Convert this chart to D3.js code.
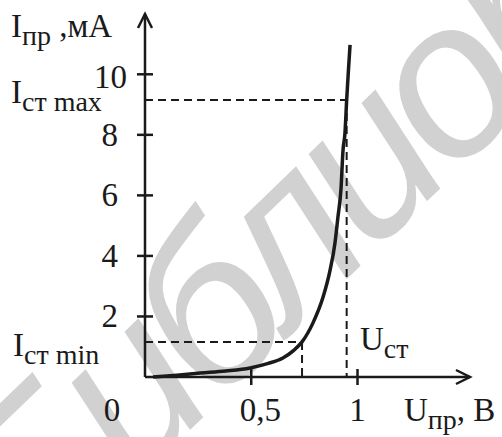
<!DOCTYPE html>
<html>
<head>
<meta charset="utf-8">
<script src="https://cdn.jsdelivr.net/npm/d3@7"></script>
<style>
  html, body { margin: 0; padding: 0; background: #fff; }
  svg { display: block; }
</style>
</head>
<body>
<svg id="chart" width="502" height="437"></svg>
<script>
(() => {
    // forward branch of the diode characteristic
    const voltage = [0.038, 0.15, 0.26, 0.38, 0.494, 0.58, 0.649, 0.70, 0.739, 0.79, 0.838, 0.871, 0.894, 0.908, 0.922, 0.932, 0.941, 0.949, 0.957, 0.965];
    const current = [0, 0.06, 0.13, 0.2, 0.3, 0.45, 0.63, 0.88, 1.16, 1.78, 2.64, 3.53, 4.43, 5.29, 6.18, 7.5, 8.06, 9.15, 10.1, 10.97];

    const yTicks = [2, 4, 6, 8, 10];
    const xTicks = [0.5, 1];
    const xTickLabels = ["0,5", "1"];

    // stabilisation point and minimum point
    const uStab = 0.949, iMax = 9.15;
    const uMin = 0.739, iMin = 1.16;

    const svg = d3.select("#chart");
    const serif = "'Liberation Serif', 'Times New Roman', serif";

    const x = d3.scaleLinear().domain([0, 1]).range([145, 357.5]);
    const y = d3.scaleLinear().domain([0, 10]).range([377, 74.3]);

    // watermark behind everything
    svg.append("text")
        .attr("transform", "translate(40,575) rotate(-44)")
        .attr("font-family", "'Liberation Sans', Arial, sans-serif")
        .attr("font-style", "italic")
        .attr("font-size", 220)
        .attr("letter-spacing", -12)
        .attr("fill", "#d1d1d1")
        .text("Библиотека");

    const ink = "#1a1a1a";

    // axes with arrows
    const axes = svg.append("g").attr("stroke", ink).attr("stroke-width", 2.5).attr("fill", "none");
    axes.append("line").attr("x1", x(0)).attr("y1", y(0)).attr("x2", x(0)).attr("y2", 14);
    axes.append("path").attr("d", `M${x(0) - 7},28 L${x(0)},14 L${x(0) + 7},28`);
    axes.append("line").attr("x1", x(0)).attr("y1", y(0)).attr("x2", 470).attr("y2", y(0));
    axes.append("path").attr("d", `M456,${y(0) - 7} L470,${y(0)} L456,${y(0) + 7}`);

    // ticks crossing the axes
    axes.selectAll(".ytick").data(yTicks).join("line")
        .attr("x1", x(0) - 8).attr("x2", x(0) + 8)
        .attr("y1", d => y(d)).attr("y2", d => y(d));
    axes.selectAll(".xtick").data(xTicks).join("line")
        .attr("x1", d => x(d)).attr("x2", d => x(d))
        .attr("y1", y(0) - 8).attr("y2", y(0) + 8);

    // tick labels
    svg.selectAll(".ylab").data(yTicks).join("text")
        .attr("x", d => d === 10 ? 127 : 118)
        .attr("y", d => y(d) + (d === 10 ? 14 : 11))
        .attr("text-anchor", "end")
        .attr("font-family", serif).attr("font-size", 33).attr("fill", ink)
        .text(d => d);
    svg.selectAll(".xlab").data(xTicks).join("text")
        .attr("x", d => x(d) + (d === 0.5 ? 9 : 0))
        .attr("y", 421)
        .attr("text-anchor", "middle")
        .attr("font-family", serif).attr("font-size", 33).attr("fill", ink)
        .text((d, i) => xTickLabels[i]);
    svg.append("text")
        .attr("x", 112).attr("y", 421).attr("text-anchor", "middle")
        .attr("font-family", serif).attr("font-size", 33).attr("fill", ink)
        .text("0");

    // dashed guide lines
    const dash = svg.append("g").attr("stroke", ink).attr("stroke-width", 2).attr("stroke-dasharray", "8,5").attr("fill", "none");
    dash.append("line").attr("x1", x(0)).attr("x2", x(uStab)).attr("y1", y(iMax)).attr("y2", y(iMax));
    dash.append("line").attr("x1", x(uStab)).attr("x2", x(uStab)).attr("y1", y(iMax)).attr("y2", y(0));
    dash.append("line").attr("x1", x(0)).attr("x2", x(uMin)).attr("y1", y(iMin)).attr("y2", y(iMin));
    dash.append("line").attr("x1", x(uMin)).attr("x2", x(uMin)).attr("y1", y(iMin)).attr("y2", y(0));

    // the curve
    const line = d3.line()
        .x(d => x(d[0]))
        .y(d => y(d[1]))
        .curve(d3.curveMonotoneX);
    svg.append("path")
        .datum(voltage.map((v, i) => [v, current[i]]))
        .attr("d", line)
        .attr("fill", "none")
        .attr("stroke", ink)
        .attr("stroke-width", 3.5);

    // labels with subscripts
    function label(px, py, main, sub, tail) {
        const t = svg.append("text")
            .attr("x", px).attr("y", py)
            .attr("font-family", serif).attr("font-size", 33).attr("fill", ink);
        t.append("tspan").text(main);
        t.append("tspan").attr("font-size", 28).attr("dy", 8).text(sub);
        if (tail) t.append("tspan").attr("dy", -8).text(tail);
        return t;
    }
    label(11, 37, "I", "пр", " ,мА");
    label(11, 103, "I", "ст max");
    label(13, 356, "I", "ст min");
    label(360, 350, "U", "ст");
    label(404, 421, "U", "пр", ", B");
})();
</script>
</body>
</html>
